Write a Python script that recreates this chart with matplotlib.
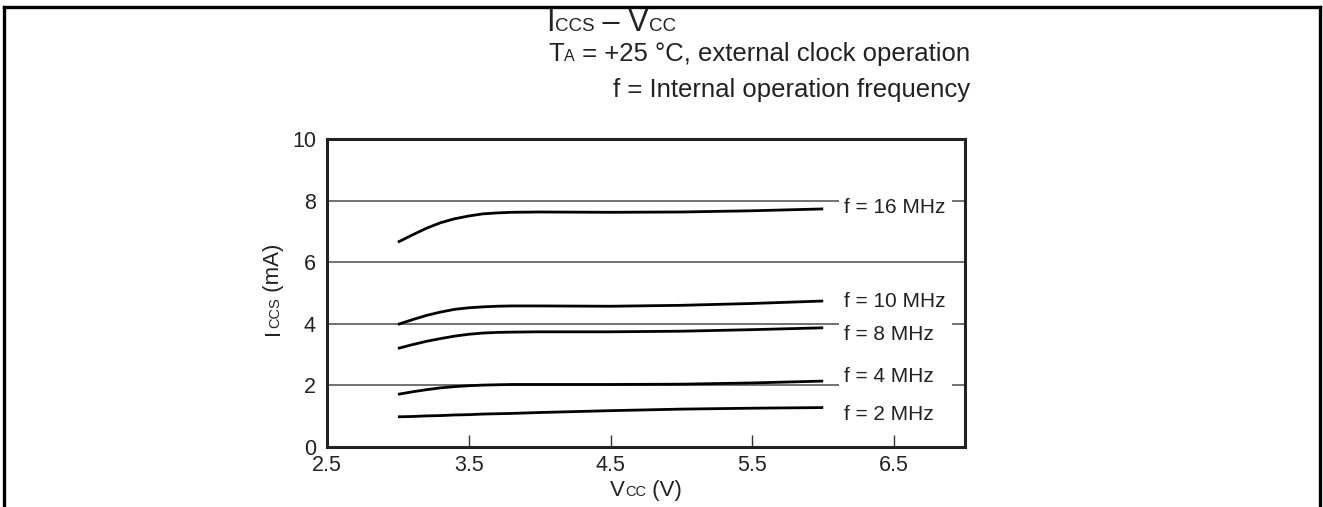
import matplotlib
matplotlib.use("Agg")
import matplotlib.pyplot as plt
from matplotlib.lines import Line2D
from matplotlib.patches import Rectangle

plt.rcParams['font.family'] = ['Liberation Sans', 'DejaVu Sans']

# ---------------- data ----------------
vcc = [3.0, 3.1, 3.2, 3.3, 3.4, 3.5, 3.6, 3.7, 3.8, 4.0, 4.5, 5.0, 5.5, 6.0]
i_16mhz = [6.65, 6.88, 7.10, 7.28, 7.41, 7.50, 7.57, 7.60, 7.62, 7.63, 7.62, 7.63, 7.67, 7.73]
i_10mhz = [3.98, 4.13, 4.27, 4.38, 4.47, 4.52, 4.55, 4.57, 4.58, 4.58, 4.57, 4.60, 4.66, 4.74]
i_8mhz = [3.20, 3.32, 3.43, 3.52, 3.60, 3.66, 3.70, 3.72, 3.73, 3.74, 3.74, 3.76, 3.81, 3.87]
i_4mhz = [1.71, 1.79, 1.86, 1.92, 1.96, 1.99, 2.01, 2.02, 2.03, 2.03, 2.03, 2.04, 2.08, 2.14]
i_2mhz = [0.98, 0.99, 1.01, 1.02, 1.04, 1.05, 1.07, 1.08, 1.09, 1.12, 1.18, 1.23, 1.26, 1.28]
series = [i_16mhz, i_10mhz, i_8mhz, i_4mhz, i_2mhz]
series_labels = ["f = 16 MHz", "f = 10 MHz", "f = 8 MHz", "f = 4 MHz", "f = 2 MHz"]
label_x = 6.15
label_y = [7.79, 4.74, 3.64, 2.29, 1.06]

x_ticks = [2.5, 3.5, 4.5, 5.5, 6.5]
x_tick_labels = ["2.5", "3.5", "4.5", "5.5", "6.5"]
y_ticks = [0, 2, 4, 6, 8, 10]
y_tick_labels = ["0", "2", "4", "6", "8", "10"]
x_limits = (2.5, 7.0)
y_limits = (0, 10)

W, H = 1323, 507
fig = plt.figure(figsize=(W / 100, H / 100), dpi=100)
ax = fig.add_axes([327 / W, 1 - 447 / H, (965 - 327) / W, (447 - 139) / H])

ax.set_xlim(*x_limits)
ax.set_ylim(*y_limits)

# grid lines
for yv in [2, 4, 6, 8]:
    ax.axhline(yv, color="#4a4a4a", lw=1.1, zorder=1)

# label knock-out boxes and labels
for lab, ly in zip(series_labels, label_y):
    ax.add_patch(Rectangle((6.11, ly - 0.4), 0.80, 0.8, facecolor="white",
                           edgecolor="none", zorder=2))
    ax.text(label_x, ly, lab, fontsize=15, va="center", ha="left",
            color="#222222", zorder=3)

for s in series:
    ax.plot(vcc, s, color="black", lw=2.0, zorder=4, solid_capstyle="butt")

ax.set_xticks(x_ticks)
ax.set_xticklabels(x_tick_labels)
ax.set_yticks(y_ticks)
ax.set_yticklabels(y_tick_labels)
ax.tick_params(axis="x", direction="in", length=9, width=1.0, color="#333333",
               labelsize=15.5, pad=6, labelcolor="#222222")
ax.tick_params(axis="y", length=0, labelsize=15.5, pad=8, labelcolor="#222222")
for sp in ax.spines.values():
    sp.set_linewidth(2.2)
    sp.set_color("#222222")
    sp.set_zorder(5)

# figure border (left, top, right)
for xs, ys in [([3.5, 3.5], [0, H - 6.5]), ([3.5, W - 3], [H - 6.5, H - 6.5]),
               ([W - 3, W - 3], [H - 6.5, 0])]:
    fig.add_artist(Line2D(xs, ys, transform=None, color="black", lw=2.4))

renderer = fig.canvas.get_renderer()


def measure(s, size):
    t1 = fig.text(0, 0, "x" + s + "x", fontsize=size, transform=None)
    t2 = fig.text(0, 0, "xx", fontsize=size, transform=None)
    w = t1.get_window_extent(renderer).width - t2.get_window_extent(renderer).width
    t1.remove()
    t2.remove()
    return w


def rich(x, y_top, pieces, align="left", rotation=0, color="#222222"):
    widths = [measure(s, sz) for s, sz in pieces]
    total = sum(widths)
    if rotation == 0:
        y = H - y_top
        start = x if align == "left" else (x - total if align == "right" else x - total / 2)
        pos = start
        for (s, sz), w in zip(pieces, widths):
            fig.text(pos, y, s, fontsize=sz, ha="left", va="baseline",
                     transform=None, color=color)
            pos += w
    else:
        # x is baseline x, y_top is centre (from top)
        yc = H - y_top
        pos = yc - total / 2
        for (s, sz), w in zip(pieces, widths):
            fig.text(x, pos, s, fontsize=sz, ha="left", va="baseline",
                     rotation=90, rotation_mode="anchor", transform=None, color=color)
            pos += w


# titles
rich(546, 31, [("I", 22), ("CCS", 13.5), (" \u2013 V", 22), ("CC", 13.5)])
rich(970, 61, [("T", 18.5), ("A", 11.5), (" = +25 \u00b0C, external clock operation", 18.5)],
     align="right")
rich(970, 97, [("f = Internal operation frequency", 18.5)], align="right")

# axis labels
rich(646, 496, [("V", 16), ("CC", 10.5), (" (V)", 16)], align="center")
rich(279, 289, [("I", 16), ("CCS", 10.5), (" (mA)", 16)], rotation=90)

fig.savefig("out.png", dpi=100)
